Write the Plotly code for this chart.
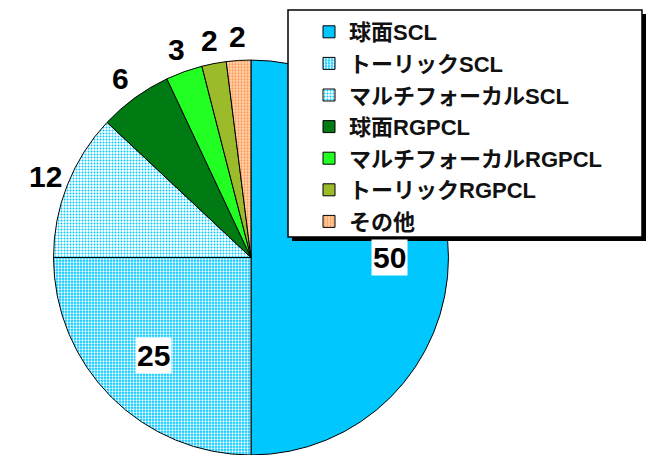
import math
import plotly.graph_objects as go

labels = ["球面SCL", "トーリックSCL", "マルチフォーカルSCL", "球面RGPCL",
          "マルチフォーカルRGPCL", "トーリックRGPCL", "その他"]
values = [50, 25, 12, 6, 3, 2, 2]
label_inside = [True, True, False, False, False, False, False]

base_colors = ["#00C8FF", "#00C8FF", "#FFFFFF", "#007A12", "#22FF22", "#9BBB2B", "#FFD9B5"]
pat_shapes = ["", ".", ".", "", "", "", "."]
pat_fg = ["#00C8FF", "#FFFFFF", "#00C8FF", "#007A12", "#22FF22", "#9BBB2B", "#FF9955"]
pat_bg = base_colors
pat_sol = [0.3, 0.45, 0.35, 0.3, 0.3, 0.3, 0.45]

FONT = "Liberation Sans, Arial, Noto Sans CJK JP, sans-serif"
W, H = 650, 455
DOM_X = [0.0823, 0.690]
DOM_Y = [0.0, 0.868]

fig = go.Figure(go.Pie(
    labels=labels,
    values=values,
    sort=False,
    direction="clockwise",
    rotation=0,
    textinfo="none",
    automargin=False,
    marker=dict(
        colors=base_colors,
        line=dict(color="black", width=1),
        pattern=dict(shape=pat_shapes, fgcolor=pat_fg, bgcolor=pat_bg,
                     size=3, solidity=pat_sol, fillmode="replace"),
    ),
    domain=dict(x=DOM_X, y=DOM_Y),
    hoverinfo="label+value",
))

# value labels placed along each slice's mid-angle (same geometry as the pie domain)
cx = W * (DOM_X[0] + DOM_X[1]) / 2
cy = H * (1 - (DOM_Y[0] + DOM_Y[1]) / 2)
R = min(W * (DOM_X[1] - DOM_X[0]), H * (DOM_Y[1] - DOM_Y[0])) / 2
total = sum(values)
cum = 0
for v, inside in zip(values, label_inside):
    mid = (cum + v / 2) / total * 2 * math.pi
    cum += v
    rf = 0.70 if inside else 1.12
    px = cx + rf * R * math.sin(mid)
    py = cy - rf * R * math.cos(mid)
    fig.add_annotation(
        x=px / W, y=1 - py / H, xref="paper", yref="paper",
        text=str(v), showarrow=False, xanchor="center", yanchor="middle",
        font=dict(family=FONT, size=30, color="black", weight="bold"),
        bgcolor="white" if inside else "rgba(0,0,0,0)", borderpad=1,
    )

# legend frame with drop shadow
fig.add_shape(type="rect", xref="paper", yref="paper",
              x0=292/W, x1=646/W, y0=1-241/H, y1=1-14/H,
              fillcolor="black", line=dict(width=0), layer="above")
fig.add_shape(type="rect", xref="paper", yref="paper",
              x0=288/W, x1=642/W, y0=1-237/H, y1=1-10/H,
              fillcolor="white", line=dict(color="black", width=1.5), layer="above")

fig.update_layout(
    width=W, height=H,
    margin=dict(l=0, r=0, t=0, b=0, autoexpand=False),
    paper_bgcolor="white",
    plot_bgcolor="white",
    showlegend=True,
    legend=dict(
        x=309/W, y=1-11/H, xanchor="left", yanchor="top",
        bgcolor="rgba(0,0,0,0)", borderwidth=0,
        font=dict(family=FONT, size=22, color="#111111", weight="bold"),
    ),
)

fig.write_html("out.html")
